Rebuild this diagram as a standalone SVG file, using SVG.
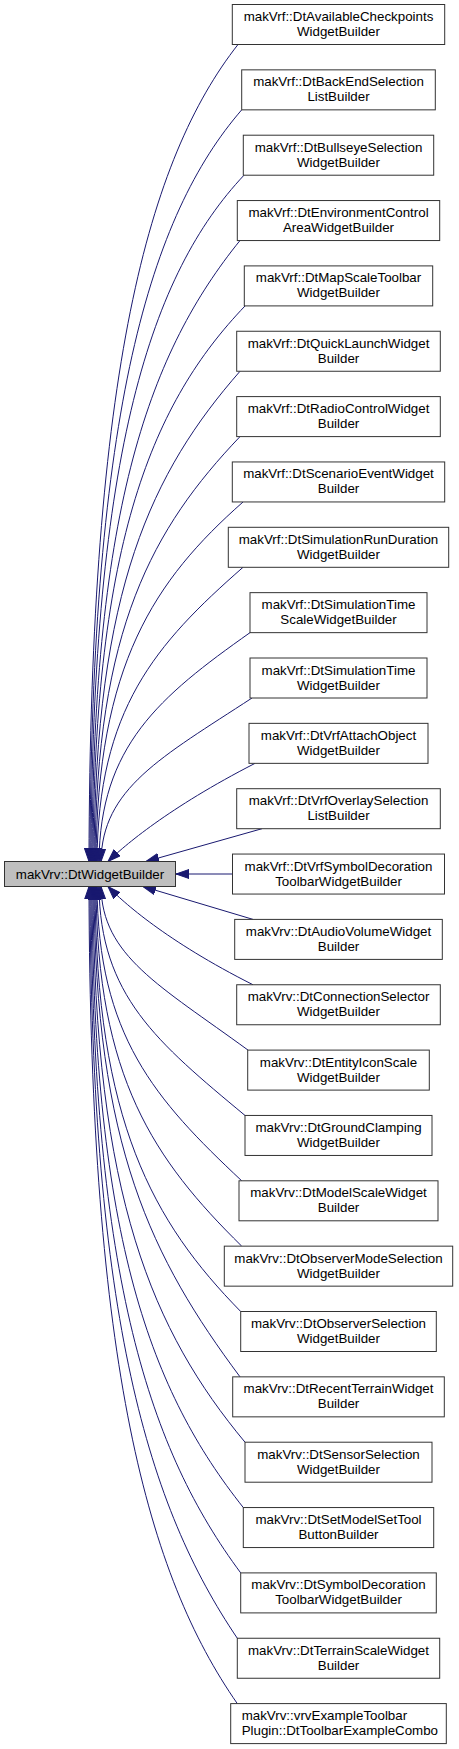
<svg xmlns="http://www.w3.org/2000/svg" width="459" height="1749" viewBox="0 0 459 1749">
<style>
.bg{fill:#ffffff}
.node rect{fill:#ffffff;stroke:#333333;stroke-width:1}
.node.main rect{fill:#bfbfbf}
.node text{font-family:"Liberation Sans",Arial,Helvetica,sans-serif;font-size:13.33px;fill:#000000;text-anchor:middle}
.node text.l{text-anchor:start}
.edge{fill:none;stroke:#191970;stroke-width:1;marker-end:url(#arr)}
</style>
<defs>
<marker id="arr" viewBox="0 0 13 10" refX="13" refY="5" markerWidth="13" markerHeight="10" markerUnits="userSpaceOnUse" orient="auto">
<path d="M0,0.5 L13,5 L0,9.5 Z" fill="#191970" stroke="#191970" stroke-width="1"/>
</marker>
</defs>
<rect class="bg" x="0" y="0" width="459" height="1749"/>
<g id="edges">
<path class="edge" d="M238,44.5 C148.6,158.6 90,369.5 89,861.5"/>
<path class="edge" d="M241.7,109.85 C150.7,215 91,409 90,861.5"/>
<path class="edge" d="M244,175.2 C152.2,272.8 92,449.4 91,861.5"/>
<path class="edge" d="M240,240.5 C151.2,350.4 93,503.7 92,861.5"/>
<path class="edge" d="M245,306 C153.8,401.3 94,539.4 93,861.5"/>
<path class="edge" d="M240,371.25 C152.4,471.4 95,588.4 94,861.5"/>
<path class="edge" d="M240,436.6 C153,528 96,628 95,861.5"/>
<path class="edge" d="M243,502 C154.8,579.9 97,664.4 96,861.5"/>
<path class="edge" d="M243,567.3 C155.4,644.1 98,709.3 97,861.5"/>
<path class="edge" d="M250,632.65 C159.4,696.7 100,746.1 99,861.5"/>
<path class="edge" d="M252,698 C161.4,757.2 102,788.5 101,861.5"/>
<path class="edge" d="M255,763.35 C168,808 124,846 108,861.5"/>
<path class="edge" d="M262,828.7 L146,861.5"/>
<path class="edge" d="M232.5,874 L176,874"/>
<path class="edge" d="M253,919.4 L143,886.5"/>
<path class="edge" d="M253,984.75 C166,940.9 123,902 108,886.5"/>
<path class="edge" d="M248,1050.1 C159.8,985.6 102,955.9 101,886.5"/>
<path class="edge" d="M245,1115.45 C157.4,1042.5 100,995.7 99,886.5"/>
<path class="edge" d="M241.7,1180.8 C154.9,1099.4 98,1035.5 97,886.5"/>
<path class="edge" d="M241.7,1246.15 C154.3,1159.9 97,1077.9 96,886.5"/>
<path class="edge" d="M240.7,1311.5 C153.3,1222.4 96,1121.6 95,886.5"/>
<path class="edge" d="M240,1376.85 C152.4,1258.9 95,1147.2 94,886.5"/>
<path class="edge" d="M245,1442.2 C153.8,1332.3 94,1198.6 93,886.5"/>
<path class="edge" d="M243.3,1507.55 C152.5,1393.2 93,1241.2 92,886.5"/>
<path class="edge" d="M240.7,1572.9 C150.9,1451.7 92,1282.1 91,886.5"/>
<path class="edge" d="M237.3,1638.25 C148.9,1507.4 91,1321.1 90,886.5"/>
<path class="edge" d="M237.3,1703.6 C148.3,1575.7 90,1368.9 89,886.5"/>
</g>
<g id="main" class="node main" transform="translate(0,861.5)">
<rect x="4.5" y="0" width="171" height="25"/>
<text x="90" y="17">makVrv::DtWidgetBuilder</text>
</g>
<g id="n0" class="node" transform="translate(0,4.5)"><rect x="232.3" y="0" width="212.4" height="40"/><text x="338.5" y="16.5">makVrf::DtAvailableCheckpoints</text><text x="338.5" y="31.5">WidgetBuilder</text></g>
<g id="n1" class="node" transform="translate(0,69.85)"><rect x="241.7" y="0" width="193.6" height="40"/><text x="338.5" y="16.5">makVrf::DtBackEndSelection</text><text x="338.5" y="31.5">ListBuilder</text></g>
<g id="n2" class="node" transform="translate(0,135.2)"><rect x="243.3" y="0" width="190.4" height="40"/><text x="338.5" y="16.5">makVrf::DtBullseyeSelection</text><text x="338.5" y="31.5">WidgetBuilder</text></g>
<g id="n3" class="node" transform="translate(0,200.55)"><rect x="237.3" y="0" width="202.4" height="40"/><text x="338.5" y="16.5">makVrf::DtEnvironmentControl</text><text x="338.5" y="31.5">AreaWidgetBuilder</text></g>
<g id="n4" class="node" transform="translate(0,265.9)"><rect x="244.3" y="0" width="188.4" height="40"/><text x="338.5" y="16.5">makVrf::DtMapScaleToolbar</text><text x="338.5" y="31.5">WidgetBuilder</text></g>
<g id="n5" class="node" transform="translate(0,331.25)"><rect x="236.7" y="0" width="203.6" height="40"/><text x="338.5" y="16.5">makVrf::DtQuickLaunchWidget</text><text x="338.5" y="31.5">Builder</text></g>
<g id="n6" class="node" transform="translate(0,396.6)"><rect x="236.7" y="0" width="203.6" height="40"/><text x="338.5" y="16.5">makVrf::DtRadioControlWidget</text><text x="338.5" y="31.5">Builder</text></g>
<g id="n7" class="node" transform="translate(0,461.95)"><rect x="232.3" y="0" width="212.4" height="40"/><text x="338.5" y="16.5">makVrf::DtScenarioEventWidget</text><text x="338.5" y="31.5">Builder</text></g>
<g id="n8" class="node" transform="translate(0,527.3)"><rect x="228.3" y="0" width="220.4" height="40"/><text x="338.5" y="16.5">makVrf::DtSimulationRunDuration</text><text x="338.5" y="31.5">WidgetBuilder</text></g>
<g id="n9" class="node" transform="translate(0,592.65)"><rect x="250" y="0" width="177" height="40"/><text x="338.5" y="16.5">makVrf::DtSimulationTime</text><text x="338.5" y="31.5">ScaleWidgetBuilder</text></g>
<g id="n10" class="node" transform="translate(0,658)"><rect x="250" y="0" width="177" height="40"/><text x="338.5" y="16.5">makVrf::DtSimulationTime</text><text x="338.5" y="31.5">WidgetBuilder</text></g>
<g id="n11" class="node" transform="translate(0,723.35)"><rect x="249" y="0" width="179" height="40"/><text x="338.5" y="16.5">makVrf::DtVrfAttachObject</text><text x="338.5" y="31.5">WidgetBuilder</text></g>
<g id="n12" class="node" transform="translate(0,788.7)"><rect x="236.7" y="0" width="203.6" height="40"/><text x="338.5" y="16.5">makVrf::DtVrfOverlaySelection</text><text x="338.5" y="31.5">ListBuilder</text></g>
<g id="n13" class="node" transform="translate(0,854.05)"><rect x="232.5" y="0" width="212" height="40"/><text x="338.5" y="16.5">makVrf::DtVrfSymbolDecoration</text><text x="338.5" y="31.5">ToolbarWidgetBuilder</text></g>
<g id="n14" class="node" transform="translate(0,919.4)"><rect x="234.7" y="0" width="207.6" height="40"/><text x="338.5" y="16.5">makVrv::DtAudioVolumeWidget</text><text x="338.5" y="31.5">Builder</text></g>
<g id="n15" class="node" transform="translate(0,984.75)"><rect x="236.7" y="0" width="203.6" height="40"/><text x="338.5" y="16.5">makVrv::DtConnectionSelector</text><text x="338.5" y="31.5">WidgetBuilder</text></g>
<g id="n16" class="node" transform="translate(0,1050.1)"><rect x="247.7" y="0" width="181.6" height="40"/><text x="338.5" y="16.5">makVrv::DtEntityIconScale</text><text x="338.5" y="31.5">WidgetBuilder</text></g>
<g id="n17" class="node" transform="translate(0,1115.45)"><rect x="245" y="0" width="187" height="40"/><text x="338.5" y="16.5">makVrv::DtGroundClamping</text><text x="338.5" y="31.5">WidgetBuilder</text></g>
<g id="n18" class="node" transform="translate(0,1180.8)"><rect x="239" y="0" width="199" height="40"/><text x="338.5" y="16.5">makVrv::DtModelScaleWidget</text><text x="338.5" y="31.5">Builder</text></g>
<g id="n19" class="node" transform="translate(0,1246.15)"><rect x="224.3" y="0" width="228.4" height="40"/><text x="338.5" y="16.5">makVrv::DtObserverModeSelection</text><text x="338.5" y="31.5">WidgetBuilder</text></g>
<g id="n20" class="node" transform="translate(0,1311.5)"><rect x="240.7" y="0" width="195.6" height="40"/><text x="338.5" y="16.5">makVrv::DtObserverSelection</text><text x="338.5" y="31.5">WidgetBuilder</text></g>
<g id="n21" class="node" transform="translate(0,1376.85)"><rect x="232.7" y="0" width="211.6" height="40"/><text x="338.5" y="16.5">makVrv::DtRecentTerrainWidget</text><text x="338.5" y="31.5">Builder</text></g>
<g id="n22" class="node" transform="translate(0,1442.2)"><rect x="245" y="0" width="187" height="40"/><text x="338.5" y="16.5">makVrv::DtSensorSelection</text><text x="338.5" y="31.5">WidgetBuilder</text></g>
<g id="n23" class="node" transform="translate(0,1507.55)"><rect x="243.3" y="0" width="190.4" height="40"/><text x="338.5" y="16.5">makVrv::DtSetModelSetTool</text><text x="338.5" y="31.5">ButtonBuilder</text></g>
<g id="n24" class="node" transform="translate(0,1572.9)"><rect x="240.7" y="0" width="195.6" height="40"/><text x="338.5" y="16.5">makVrv::DtSymbolDecoration</text><text x="338.5" y="31.5">ToolbarWidgetBuilder</text></g>
<g id="n25" class="node" transform="translate(0,1638.25)"><rect x="237.3" y="0" width="202.4" height="40"/><text x="338.5" y="16.5">makVrv::DtTerrainScaleWidget</text><text x="338.5" y="31.5">Builder</text></g>
<g id="n26" class="node" transform="translate(0,1703.6)"><rect x="230.7" y="0" width="215.6" height="40"/><text class="l" x="241.7" y="16.5">makVrv::vrvExampleToolbar</text><text class="l" x="241.7" y="31.5">Plugin::DtToolbarExampleCombo</text></g>
</svg>
